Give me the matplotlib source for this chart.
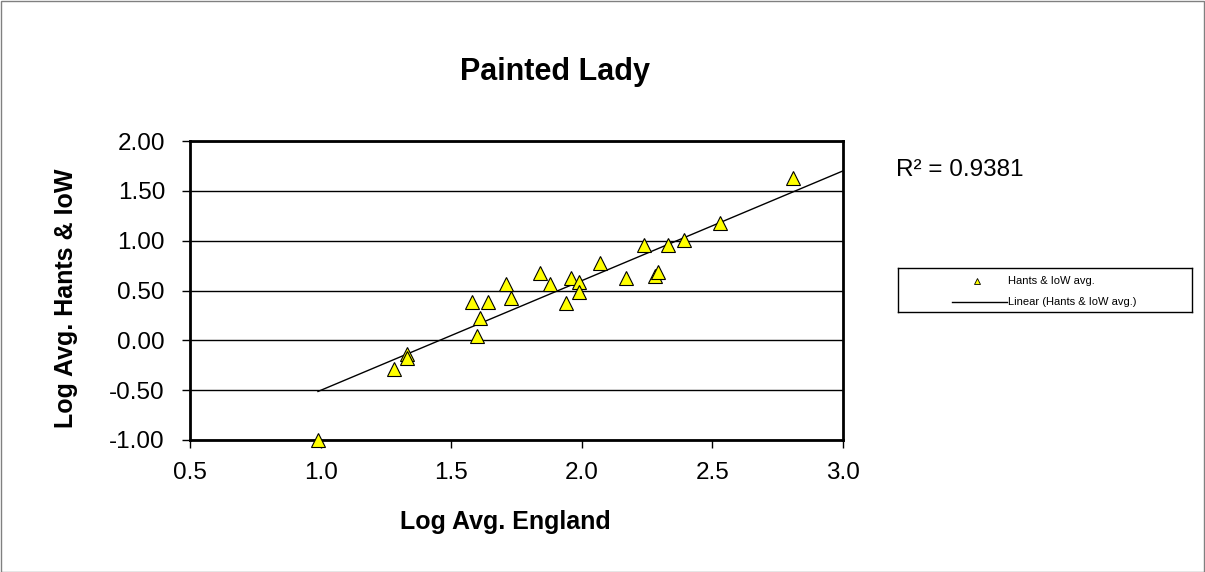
import numpy as np
import matplotlib
matplotlib.use("Agg")
import matplotlib.pyplot as plt
from matplotlib.patches import Rectangle

plt.rcParams['font.family'] = ['Liberation Sans', 'DejaVu Sans']

title = "Painted Lady"
x_label = "Log Avg. England"
y_label = "Log Avg. Hants & IoW"
series_name = "Hants & IoW avg."
trend_name = "Linear (Hants & IoW avg.)"
r2_text = "R\u00b2 = 0.9381"

log_england = [0.99, 1.28, 1.33, 1.33, 1.58, 1.60, 1.61, 1.64, 1.71, 1.73,
               1.84, 1.88, 1.94, 1.96, 1.99, 1.99, 2.07, 2.17, 2.24, 2.28,
               2.29, 2.33, 2.39, 2.53, 2.81]
log_hants = [-1.00, -0.29, -0.14, -0.18, 0.38, 0.04, 0.22, 0.38, 0.57, 0.42,
             0.68, 0.57, 0.37, 0.63, 0.59, 0.48, 0.78, 0.63, 0.96, 0.65,
             0.69, 0.96, 1.01, 1.18, 1.63]

# linear trendline as drawn
trend_slope = 1.101
trend_intercept = -1.603
trend_x_end = 3.0

x_ticks = [0.5, 1.0, 1.5, 2.0, 2.5, 3.0]
y_ticks = [-1.0, -0.5, 0.0, 0.5, 1.0, 1.5, 2.0]

W, H = 1205, 572
fig = plt.figure(figsize=(W / 100, H / 100), dpi=100)
fig.patch.set_facecolor('white')
fig.patches.append(Rectangle((0.5 / W, 0.5 / H), 1 - 1.5 / W, 1 - 1.5 / H,
                             transform=fig.transFigure, fill=False,
                             edgecolor='#808080', linewidth=1))

ax = fig.add_axes([190 / W, 1 - 440 / H, (843 - 190) / W, (440 - 141) / H])
ax.set_xlim(0.5, 3.0)
ax.set_ylim(-1.0, 2.0)
ax.set_xticks(x_ticks)
ax.set_xticklabels([f"{v:.1f}" for v in x_ticks])
ax.set_yticks(y_ticks)
ax.set_yticklabels([f"{v:.2f}" for v in y_ticks])
ax.tick_params(axis='both', direction='out', length=6, width=1, labelsize=17.5,
               colors='black')
ax.tick_params(axis='y', pad=12)
ax.tick_params(axis='x', pad=10)
for s in ax.spines.values():
    s.set_linewidth(2)
    s.set_color('black')
ax.yaxis.grid(True, color='black', linewidth=1)
ax.set_axisbelow(True)

xa = np.array(log_england)
ya = np.array(log_hants)
xt = np.array([xa.min(), trend_x_end])
ax.plot(xt, trend_slope * xt + trend_intercept, color='black', linewidth=1,
        zorder=2)
ax.plot(xa, ya, linestyle='none', marker='^', markersize=9.6,
        markerfacecolor='#FFFF00', markeredgecolor='black',
        markeredgewidth=0.8, zorder=3, clip_on=False)

fig.text(555 / W, 1 - 72 / H, title, ha='center', va='center',
         fontsize=22, fontweight='bold')
fig.text(505 / W, 1 - 522 / H, x_label, ha='center', va='center',
         fontsize=18, fontweight='bold')
fig.text(66 / W, 1 - 298 / H, y_label, ha='center', va='center',
         rotation=90, fontsize=18, fontweight='bold')

fig.text(896 / W, 1 - 170 / H, r2_text, ha='left', va='center', fontsize=17.5)

# legend box
lx0, lx1, ly0, ly1 = 898, 1192, 268, 312
lax = fig.add_axes([lx0 / W, 1 - ly1 / H, (lx1 - lx0) / W, (ly1 - ly0) / H])
lax.set_xlim(lx0, lx1)
lax.set_ylim(ly1, ly0)
lax.set_xticks([])
lax.set_yticks([])
for s in lax.spines.values():
    s.set_linewidth(1)
    s.set_color('black')
lax.plot([977], [281], linestyle='none', marker='^', markersize=4,
         markerfacecolor='#FFFF00', markeredgecolor='black',
         markeredgewidth=0.6)
lax.plot([952, 1007], [302, 302], color='black', linewidth=1)
lax.text(1008, 281, series_name, ha='left', va='center', fontsize=8)
lax.text(1008, 302, trend_name, ha='left', va='center', fontsize=8)

fig.savefig('out.png', dpi=100, facecolor='white')
